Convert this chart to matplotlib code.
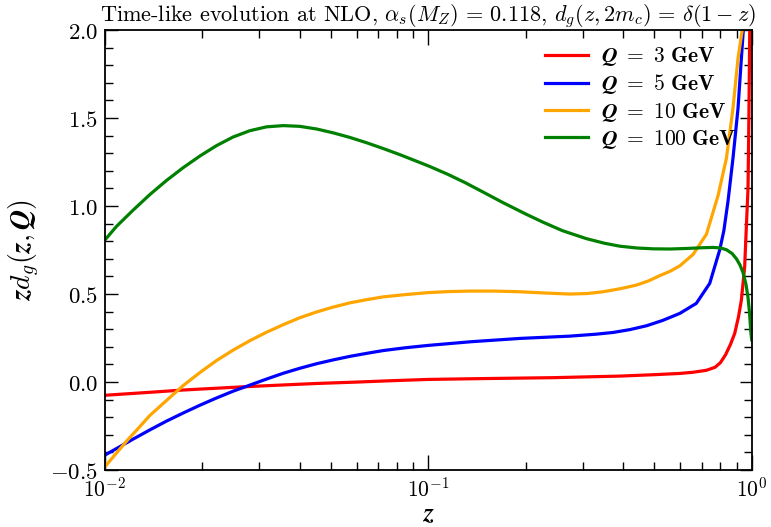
import matplotlib
matplotlib.use("Agg")
import matplotlib.pyplot as plt
from matplotlib.ticker import MultipleLocator, LogLocator, FixedLocator

plt.rcParams["mathtext.fontset"] = "cm"
plt.rcParams["axes.unicode_minus"] = True

# values (z, z*d_g(z,Q))
z_q3 = [0.01, 0.0138, 0.0175, 0.0221, 0.0274, 0.035, 0.0451, 0.06, 0.075, 0.0995,
        0.15, 0.243, 0.391, 0.50, 0.599, 0.66, 0.7244, 0.77, 0.80, 0.83,
        0.86, 0.886, 0.91, 0.929, 0.951, 0.963, 0.974, 0.98, 0.986, 0.99]
v_q3 = [-0.075, -0.058, -0.045, -0.035, -0.026, -0.017, -0.008, 0.0, 0.007, 0.015,
        0.02, 0.025, 0.034, 0.042, 0.049, 0.056, 0.067, 0.084, 0.11, 0.155,
        0.215, 0.277, 0.37, 0.466, 0.655, 0.892, 1.10, 1.5, 2.0, 2.3]

z_q5 = [0.01, 0.011, 0.0122, 0.0138, 0.0155, 0.0175, 0.0197, 0.0221, 0.0249, 0.0281,
        0.0316, 0.0356, 0.04, 0.0451, 0.0508, 0.0572, 0.0644, 0.0725, 0.085, 0.0995,
        0.135, 0.192, 0.274, 0.33, 0.373, 0.42, 0.473, 0.53, 0.599, 0.674,
        0.7416, 0.796, 0.82, 0.845, 0.875, 0.907, 0.929, 0.95, 0.96]
v_q5 = [-0.415, -0.372, -0.325, -0.271, -0.222, -0.175, -0.131, -0.091, -0.052, -0.017,
        0.017, 0.05, 0.078, 0.104, 0.126, 0.146, 0.163, 0.179, 0.195, 0.208,
        0.229, 0.248, 0.261, 0.272, 0.282, 0.298, 0.32, 0.35, 0.39, 0.447,
        0.561, 0.75, 0.86, 1.03, 1.271, 1.555, 1.839, 2.1, 2.4]

z_q10 = [0.01, 0.0109, 0.01181, 0.0128, 0.01377, 0.0155, 0.01746, 0.0197, 0.02213, 0.025,
         0.02806, 0.0316, 0.0356, 0.04, 0.0451, 0.0508, 0.0572, 0.0644, 0.0725, 0.085,
         0.0995, 0.115, 0.135, 0.16, 0.192, 0.23, 0.274, 0.31, 0.347, 0.391,
         0.44, 0.48, 0.52, 0.56, 0.599, 0.6586, 0.7244, 0.787, 0.835,
         0.875, 0.907, 0.94, 0.955]
v_q10 = [-0.481, -0.40, -0.325, -0.255, -0.19, -0.105, -0.02, 0.055, 0.122, 0.183,
         0.235, 0.283, 0.326, 0.365, 0.398, 0.426, 0.45, 0.468, 0.484, 0.497,
         0.508, 0.514, 0.517, 0.517, 0.513, 0.506, 0.50, 0.503, 0.513, 0.53,
         0.551, 0.575, 0.605, 0.63, 0.66, 0.725, 0.84, 1.06, 1.271,
         1.555, 1.839, 2.03, 2.3]

z_q100 = [0.01, 0.01087, 0.0122, 0.01377, 0.0155, 0.01746, 0.0197, 0.02213, 0.0249, 0.02806,
          0.0316, 0.0356, 0.04, 0.0451, 0.0508, 0.0572, 0.0644, 0.0725, 0.0817, 0.0919,
          0.101, 0.115, 0.13, 0.15, 0.17, 0.2, 0.2265, 0.26, 0.308, 0.35,
          0.391, 0.44, 0.495, 0.56, 0.628, 0.70, 0.759, 0.80, 0.835, 0.87,
          0.897, 0.92, 0.94, 0.96, 0.974, 0.985, 0.993, 0.997, 1.0]
v_q100 = [0.807, 0.885, 0.975, 1.065, 1.145, 1.218, 1.285, 1.343, 1.392, 1.428,
          1.450, 1.457, 1.453, 1.438, 1.416, 1.390, 1.360, 1.327, 1.292, 1.255,
          1.225, 1.180, 1.133, 1.073, 1.020, 0.955, 0.908, 0.860, 0.815, 0.789,
          0.772, 0.762, 0.757, 0.756, 0.759, 0.763, 0.765, 0.762, 0.752, 0.730,
          0.70, 0.665, 0.622, 0.555, 0.48, 0.39, 0.29, 0.26, 0.24]

series = [
    (z_q3, v_q3, "red", r"$\boldsymbol{Q}\ =\ \mathbf{3\ GeV}$"),
    (z_q5, v_q5, "blue", r"$\boldsymbol{Q}\ =\ \mathbf{5\ GeV}$"),
    (z_q10, v_q10, "orange", r"$\boldsymbol{Q}\ =\ \mathbf{10\ GeV}$"),
    (z_q100, v_q100, "green", r"$\boldsymbol{Q}\ =\ \mathbf{100\ GeV}$"),
]

fig = plt.figure(figsize=(7.71, 5.27), dpi=100)
ax = fig.add_axes([0.136, 0.108, 0.839, 0.835])

for z, v, c, lab in series:
    ax.plot(z, v, color=c, lw=2.3, label=lab, solid_joinstyle="round")

ax.set_xscale("log")
ax.set_xlim(0.01, 1.0)
ax.set_ylim(-0.5, 2.0)

# ticks
ax.yaxis.set_major_locator(MultipleLocator(0.5))
ax.yaxis.set_minor_locator(MultipleLocator(0.1))
ax.xaxis.set_major_locator(FixedLocator([0.01, 0.1, 1.0]))
ax.xaxis.set_minor_locator(LogLocator(base=10, subs=range(2, 10), numticks=20))
ax.tick_params(which="both", direction="in", top=True, right=True, width=1.0)
ax.tick_params(axis="x", which="major", length=11)
ax.tick_params(axis="y", which="major", length=9)
ax.tick_params(which="minor", length=5.5)
for s in ax.spines.values():
    s.set_linewidth(1.3)

ax.set_yticks([-0.5, 0.0, 0.5, 1.0, 1.5, 2.0])
ax.set_yticklabels([r"$\mathbf{-0.5}$", r"$\mathbf{0.0}$", r"$\mathbf{0.5}$",
                    r"$\mathbf{1.0}$", r"$\mathbf{1.5}$", r"$\mathbf{2.0}$"], fontsize=16.5)
ax.set_xticks([0.01, 0.1, 1.0])
ax.set_xticklabels([r"$\mathbf{10^{-2}}$", r"$\mathbf{10^{-1}}$", r"$\mathbf{10^{0}}$"], fontsize=15.5)
ax.tick_params(axis="x", pad=5)
ax.tick_params(axis="y", pad=5)

ax.set_xlabel(r"$\boldsymbol{z}$", fontsize=19, labelpad=0)
ax.set_ylabel(r"$\boldsymbol{z d_g(z, Q)}$", fontsize=20, labelpad=6)

ax.set_title(r"Time-like evolution at NLO, $\alpha_s(M_Z)\,=\,0.118$, $d_g(z, 2m_c)\,=\,\delta(1-z)$",
             fontsize=16, family="cmr10", pad=4)

ax.legend(loc="upper right", frameon=False, fontsize=15.5, handlelength=2.0,
          handletextpad=0.6, borderaxespad=0.3, labelspacing=0.2,
          bbox_to_anchor=(1.0, 1.0))

fig.savefig("out.png", dpi=100)
